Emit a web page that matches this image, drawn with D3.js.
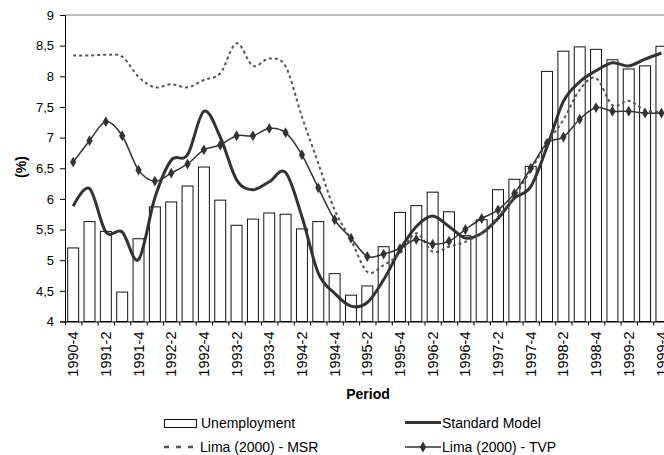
<!DOCTYPE html>
<html>
<head>
<meta charset="utf-8">
<script src="https://cdn.jsdelivr.net/npm/d3@7"></script>
<style>
  html, body { margin: 0; padding: 0; background: #fff; }
  svg { display: block; font-family: "Liberation Sans", Arial, sans-serif; }
</style>
</head>
<body>
<svg id="chart" width="664" height="455"></svg>
<script>
const categories = ["1990-4",
  "1991-1","1991-2","1991-3","1991-4",
  "1992-1","1992-2","1992-3","1992-4",
  "1993-1","1993-2","1993-3","1993-4",
  "1994-1","1994-2","1994-3","1994-4",
  "1995-1","1995-2","1995-3","1995-4",
  "1996-1","1996-2","1996-3","1996-4",
  "1997-1","1997-2","1997-3","1997-4",
  "1998-1","1998-2","1998-3","1998-4",
  "1999-1","1999-2","1999-3","1999-4"];

const unemployment = [5.20,5.63,5.47,4.48,5.35,5.87,5.95,6.21,6.52,5.98,5.57,5.67,5.77,5.75,5.51,5.63,4.78,4.43,4.58,5.22,5.78,5.89,6.11,5.79,5.40,5.66,6.15,6.32,6.53,8.08,8.41,8.48,8.44,8.27,8.12,8.17,8.49];
const standardModel = [5.88,6.17,5.46,5.46,5.01,6.02,6.63,6.72,7.43,7.01,6.31,6.15,6.28,6.43,5.71,4.79,4.46,4.25,4.31,4.68,5.17,5.55,5.72,5.55,5.36,5.44,5.68,6.01,6.20,6.85,7.59,7.91,8.09,8.22,8.17,8.28,8.38];
const limaMSR = [8.34,8.34,8.35,8.32,7.99,7.82,7.87,7.82,7.94,8.05,8.54,8.17,8.29,8.16,7.34,6.58,5.82,5.33,4.81,4.92,5.11,5.44,5.14,5.22,5.30,5.44,5.71,6.04,6.47,6.91,7.29,7.78,7.97,7.53,7.60,7.45,7.42];
const limaTVP = [6.60,6.95,7.26,7.03,6.47,6.29,6.42,6.57,6.80,6.88,7.03,7.03,7.15,7.08,6.72,6.18,5.66,5.36,5.06,5.10,5.19,5.34,5.26,5.31,5.50,5.68,5.82,6.09,6.50,6.91,7.01,7.30,7.49,7.43,7.43,7.40,7.40];
const yTicks = [4, 4.5, 5, 5.5, 6, 6.5, 7, 7.5, 8, 8.5, 9];
const xLabelEvery = 2;
const seriesNames = ["Unemployment", "Standard Model", "Lima (2000) - MSR", "Lima (2000) - TVP"];
const yTitle = "(%)";
const xTitle = "Period";

const svg = d3.select("#chart");
const pL = 65, pR = 669.6, pT = 15, pB = 321.5;

const x = d3.scaleBand().domain(categories).range([pL, pR]).paddingInner(0.33).paddingOuter(0.165);
const xIdx = d3.scaleLinear().domain([0, categories.length]).range([pL, pR]);
const y = d3.scaleLinear().domain([4, 9]).range([pB, pT]);
const cx = c => x(c) + x.bandwidth() / 2;

// plot border (top/right)
svg.append("line").attr("x1", pL).attr("x2", pR).attr("y1", pT).attr("y2", pT)
  .attr("stroke", "#808080").attr("stroke-width", 1);
svg.append("line").attr("x1", pR).attr("x2", pR).attr("y1", pT).attr("y2", pB)
  .attr("stroke", "#808080").attr("stroke-width", 1);

// bars
svg.append("g").selectAll("rect").data(categories).join("rect")
  .attr("x", c => x(c)).attr("width", x.bandwidth())
  .attr("y", (c, i) => y(unemployment[i]))
  .attr("height", (c, i) => pB - y(unemployment[i]))
  .attr("fill", "#fff").attr("stroke", "#111").attr("stroke-width", 1);

// y axis
const yAxis = svg.append("g").attr("transform", `translate(${pL},0)`)
  .call(d3.axisLeft(y).tickValues(yTicks).tickSize(5).tickPadding(6)
    .tickFormat(d => String(d).replace(".", ",")));
yAxis.selectAll("text").attr("font-size", 13).attr("fill", "#000")
  .attr("font-family", "Liberation Sans, Arial, sans-serif");
yAxis.selectAll("line,path").attr("stroke", "#000");

// x axis
const xAxis = svg.append("g").attr("transform", `translate(0,${pB})`)
  .call(d3.axisBottom(xIdx).tickValues(d3.range(categories.length + 1)).tickSize(4).tickSizeOuter(0).tickFormat(""));
xAxis.selectAll("line,path").attr("stroke", "#000");

svg.append("g").selectAll("text")
  .data(categories.filter((c, i) => i % xLabelEvery === 0)).join("text")
  .attr("transform", c => `translate(${cx(c)},${pB + 10}) rotate(-90)`)
  .attr("text-anchor", "end").attr("dy", "0.35em")
  .attr("font-size", 14.5).attr("fill", "#000")
  .text(d => d);

// titles
svg.append("text").attr("x", 368).attr("y", 399).attr("text-anchor", "middle")
  .attr("font-size", 14).attr("font-weight", "bold").text(xTitle);
svg.append("text").attr("transform", "translate(21,167) rotate(-90)")
  .attr("text-anchor", "middle").attr("dy", "0.35em")
  .attr("font-size", 14).attr("font-weight", "bold").text(yTitle);

// lines
const line = d3.line().x((d, i) => cx(categories[i])).y(d => y(d)).curve(d3.curveCardinal.tension(0));
const plot = svg.append("g");
plot.append("path").datum(standardModel).attr("d", line)
  .attr("fill", "none").attr("stroke", "#333").attr("stroke-width", 3);
plot.append("path").datum(limaMSR).attr("d", line)
  .attr("fill", "none").attr("stroke", "#555").attr("stroke-width", 2).attr("stroke-dasharray", "3,3");
plot.append("path").datum(limaTVP).attr("d", line)
  .attr("fill", "none").attr("stroke", "#333").attr("stroke-width", 1.5);
const diamond = d3.symbol().type(d3.symbolDiamond).size(34);
plot.append("g").selectAll("path").data(limaTVP).join("path")
  .attr("transform", (d, i) => `translate(${cx(categories[i])},${y(d)})`)
  .attr("d", diamond).attr("fill", "#333");

// legend
const lg = svg.append("g").attr("font-size", 14).attr("fill", "#000");
lg.append("rect").attr("x", 164.5).attr("y", 419.5).attr("width", 32).attr("height", 8)
  .attr("fill", "#fff").attr("stroke", "#111");
lg.append("text").attr("x", 201).attr("y", 428).text(seriesNames[0]);
lg.append("line").attr("x1", 405).attr("x2", 441).attr("y1", 422.5).attr("y2", 422.5)
  .attr("stroke", "#333").attr("stroke-width", 3);
lg.append("text").attr("x", 442).attr("y", 428).text(seriesNames[1]);
lg.append("line").attr("x1", 164).attr("x2", 194).attr("y1", 447).attr("y2", 447)
  .attr("stroke", "#555").attr("stroke-width", 2.5).attr("stroke-dasharray", "5,7");
lg.append("text").attr("x", 200).attr("y", 452).text(seriesNames[2]);
lg.append("line").attr("x1", 405).attr("x2", 441).attr("y1", 447).attr("y2", 447)
  .attr("stroke", "#333").attr("stroke-width", 1.5);
lg.append("path").attr("transform", "translate(423,447)").attr("d", diamond).attr("fill", "#333");
lg.append("text").attr("x", 442).attr("y", 452).text(seriesNames[3]);
</script>
</body>
</html>
